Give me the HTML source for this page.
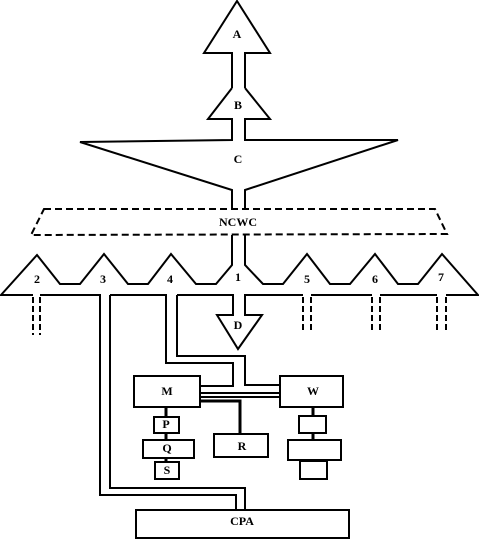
<!DOCTYPE html>
<html><head><meta charset="utf-8"><style>
html,body{margin:0;padding:0;background:#fff;}
svg{display:block;}
text{font-family:"Liberation Serif",serif;font-weight:bold;font-size:12px;fill:#000;text-anchor:middle;dominant-baseline:middle;}
</style></head><body>
<svg width="479" height="539" viewBox="0 0 479 539" fill="none" stroke="#000" stroke-width="2" stroke-linejoin="miter">
<g>
<path d="M232 88 L232 53 L204 53 L237 1 L270 53 L245 53 L245 88"/>
<path d="M232 88 L208 119 L232 119 L232 140 L80 142 L232 190 L232 208"/>
<path d="M245 88 L270 119 L245 119 L245 140 L398 140 L245 190 L245 208"/>
</g>
<path d="M44 209 L435 209 L447 234 L31 235 Z" stroke-dasharray="7,4"/>
<g>
<path d="M232 235 L232 265 L216 284 L196 284 L171 254 L148 284 L128 284 L104 254 L80 284 L60 284 L37 255 L1 295 L33 295"/>
<path d="M245 235 L245 265 L263 284 L283 284 L307 254 L330 284 L350 284 L375 254 L398 284 L418 284 L442 254 L478 295 L446 295"/>
<path d="M40 295 L100 295 L100 495 L236 495 L236 510"/>
<path d="M110 295 L166 295 L166 363 L233 363 L233 386 L200 386 L200 376 L134 376 L134 407 L200 407 L200 386"/>
<path d="M110 295 L110 488 L245 488 L245 510"/>
<path d="M177 295 L177 356 L245 356 L245 385 L280 385"/>
<path d="M177 295 L233 295 L233 315 L217 315 L238 349 L262 315 L245 315 L245 295 L303 295"/>
<path d="M311 295 L372 295 M380 295 L437 295"/>
<path d="M33 297 L33 335 M40 297 L40 335 M303 297 L303 333 M311 297 L311 333 M372 297 L372 333 M380 297 L380 333 M437 297 L437 333 M446 297 L446 333" stroke-dasharray="6,3"/>
</g>
<g>
<path d="M200 393 L280 393 M200 397 L280 397"/>
<path d="M200 401 L240 401 L240 434" stroke-width="3"/>
<path d="M166 407 L166 417 M166 433 L166 440 M166 458 L166 462 M313 407 L313 416 M313 433 L313 440 M313 460 L313 461" stroke-width="3"/>
</g>
<rect x="280" y="376" width="63" height="31"/>
<rect x="154" y="417" width="25" height="16"/>
<rect x="143" y="440" width="51" height="18"/>
<rect x="155" y="462" width="24" height="17"/>
<rect x="214" y="434" width="54" height="23"/>
<rect x="299" y="416" width="27" height="17"/>
<rect x="288" y="440" width="53" height="20"/>
<rect x="300" y="461" width="27" height="18"/>
<rect x="136" y="510" width="213" height="28"/>
<g stroke="none">
<text x="237" y="35">A</text>
<text x="238" y="106">B</text>
<text x="238" y="160">C</text>
<text x="238" y="223">NCWC</text>
<text x="37" y="280">2</text>
<text x="103" y="280">3</text>
<text x="170" y="280">4</text>
<text x="238" y="278">1</text>
<text x="307" y="280">5</text>
<text x="375" y="280">6</text>
<text x="441" y="278">7</text>
<text x="238" y="326">D</text>
<text x="167" y="392">M</text>
<text x="313" y="392">W</text>
<text x="166" y="425">P</text>
<text x="167" y="449">Q</text>
<text x="242" y="447">R</text>
<text x="167" y="471">S</text>
<text x="242" y="522">CPA</text>
</g>
</svg>
</body></html>
